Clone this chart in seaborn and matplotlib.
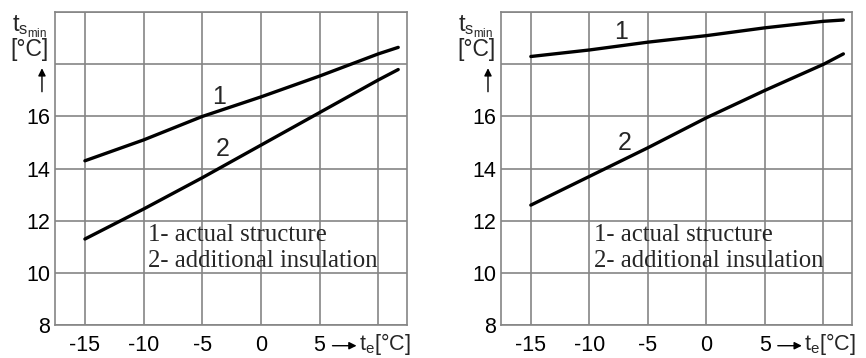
import matplotlib
matplotlib.use("Agg")

import matplotlib.pyplot as plt
import seaborn as sns

# -----------------------------
# Data
# -----------------------------

te = [-15, -10, -5, 0, 5, 10, 11.7]

left_actual = [14.3, 15.1, 16.0, 16.75, 17.55, 18.4, 18.65]
left_insul = [11.3, 12.45, 13.65, 14.9, 16.15, 17.4, 17.8]

right_actual = [18.3, 18.55, 18.85, 19.1, 19.4, 19.65, 19.7]
right_insul = [12.6, 13.7, 14.8, 15.95, 17.0, 18.0, 18.4]

x_ticks = [-15, -10, -5, 0, 5, 10]
x_labels = ["-15", "-10", "-5", "0", "5", ""]
y_ticks = [8, 10, 12, 14, 16, 18, 20]
y_labels = ["8", "10", "12", "14", "16", "", ""]

legend_lines = ["1- actual structure", "2- additional insulation"]

# curve number labels: (x, y) in data units
left_numbers = [(-3.6, 16.75), (-3.3, 14.75)]
right_numbers = [(-7.3, 19.25), (-7.0, 15.0)]

# -----------------------------
# Style
# -----------------------------

sns.set_style("white")
plt.rcParams["font.family"] = ["Liberation Sans", "DejaVu Sans"]
plt.rcParams["mathtext.fontset"] = "custom"
plt.rcParams["mathtext.rm"] = "Liberation Sans"
plt.rcParams["mathtext.it"] = "Liberation Sans"

grid_color = "#858585"

fig = plt.figure(figsize=(8.66, 3.58), dpi=100)
ax1 = fig.add_axes([0.0635, 0.092, 0.4065, 0.874])
ax2 = fig.add_axes([0.5785, 0.092, 0.4055, 0.874])


def draw_panel(ax, actual, insul, numbers):
    sns.lineplot(x=te, y=actual, ax=ax, color="black", linewidth=2.4)
    sns.lineplot(x=te, y=insul, ax=ax, color="black", linewidth=2.4)

    ax.set_xlim(-17.55, 12.45)
    ax.set_ylim(8, 20)
    ax.set_xticks(x_ticks)
    ax.set_xticklabels(x_labels)
    ax.set_yticks(y_ticks)
    ax.set_yticklabels(y_labels)
    ax.tick_params(length=0, labelsize=15.5, colors="black")
    ax.tick_params(axis="x", pad=7)
    ax.tick_params(axis="y", pad=3.5)

    ax.grid(True, color=grid_color, linewidth=1.2)
    for sp in ax.spines.values():
        sp.set_color(grid_color)
        sp.set_linewidth(1.2)

    for i, (nx, ny) in enumerate(numbers):
        ax.text(nx, ny, str(i + 1), fontsize=18, ha="center", va="center")

    ax.text(-9.6, 11.45, legend_lines[0], family="Liberation Serif",
            fontsize=17.8, ha="left", va="center")
    ax.text(-9.6, 10.45, legend_lines[1], family="Liberation Serif",
            fontsize=17.8, ha="left", va="center")

    # y axis label stacked left of the axis
    ytr = ax.get_yaxis_transform()
    ax.text(-0.122, 19.45, r"t$_{\mathrm{s}_{\mathrm{min}}}$", transform=ytr,
            fontsize=17, ha="left", va="center")
    ax.text(-0.071, 18.58, "[°C]", transform=ytr,
            fontsize=16.5, ha="center", va="center")
    ax.annotate("", xy=(-0.037, 17.85), xytext=(-0.037, 16.95), xycoords=ytr,
                textcoords=ytr,
                arrowprops=dict(arrowstyle="-|>", color="black", lw=1.0,
                                mutation_scale=11, shrinkA=0, shrinkB=0))

    # x axis label after the "5" tick
    xtr = ax.get_xaxis_transform()
    ax.annotate("", xy=(8.15, -0.066), xytext=(6.1, -0.066), xycoords=xtr,
                textcoords=xtr,
                arrowprops=dict(arrowstyle="-|>", color="black", lw=1.0,
                                mutation_scale=11, shrinkA=0, shrinkB=0))
    ax.text(8.35, -0.06, r"t$_{\mathrm{e}}$[°C]", transform=xtr,
            fontsize=15.5, ha="left", va="center")


draw_panel(ax1, left_actual, left_insul, left_numbers)
draw_panel(ax2, right_actual, right_insul, right_numbers)

plt.savefig("out.png", dpi=100)
plt.close()
